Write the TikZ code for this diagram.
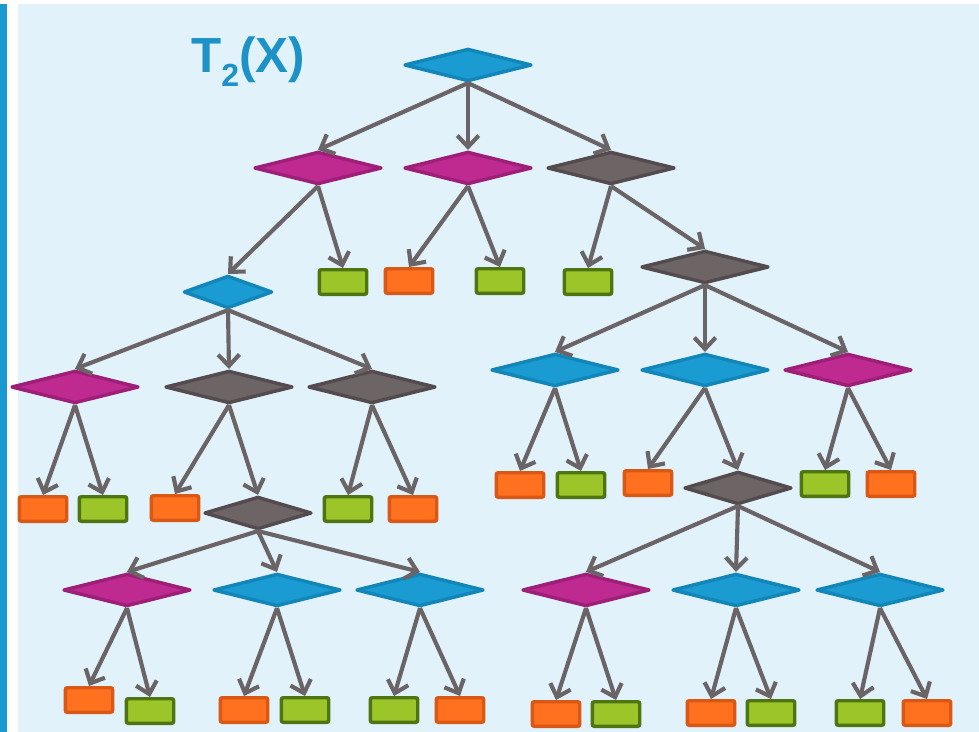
\documentclass[tikz,border=0pt]{standalone}
\usepackage{fontspec}
\setmainfont{Liberation Sans}
\usetikzlibrary{shapes.geometric,arrows.meta}
\definecolor{panel}{HTML}{E1F2FA}
\definecolor{sidebar}{HTML}{1A9AD0}
\definecolor{cyanfill}{HTML}{1A9BD2}
\definecolor{cyanline}{HTML}{1386B9}
\definecolor{plumfill}{HTML}{BE2A90}
\definecolor{plumline}{HTML}{9E1F78}
\definecolor{slatefill}{HTML}{6D6466}
\definecolor{slateline}{HTML}{534B4D}
\definecolor{orangefill}{HTML}{FF701F}
\definecolor{orangeline}{HTML}{D95816}
\definecolor{limefill}{HTML}{9BC528}
\definecolor{limeline}{HTML}{4F7513}
\definecolor{edgegrey}{HTML}{6B6466}
\definecolor{titleblue}{HTML}{1C92C9}

\begin{document}
\begin{tikzpicture}[x=0.75pt, y=-0.75pt,
    dia/.style={diamond, inner sep=0pt, line width=2.6pt, line join=round, minimum width=95.5pt, minimum height=24.5pt},
    small/.style={minimum width=66.5pt},
    mid/.style={minimum width=80.5pt},
    bdia/.style={dia, fill=cyanfill, draw=cyanline},
    mdia/.style={dia, fill=plumfill, draw=plumline},
    gdia/.style={dia, fill=slatefill, draw=slateline},
    box/.style={rectangle, rounded corners=1.5pt, inner sep=0pt, line width=2.6pt, minimum width=35.6pt, minimum height=18.4pt},
    obox/.style={box, fill=orangefill, draw=orangeline},
    lbox/.style={box, fill=limefill, draw=limeline},
    arr/.style={draw=edgegrey, line width=3.1pt, -{Straight Barb[length=8.5pt,width=16pt]}}]
    \useasboundingbox (0,0) rectangle (979,732);
    \fill[white] (0,0) rectangle (979,732);
    \fill[sidebar] (0,4) rectangle (7,732);
    \fill[panel] (18,4) rectangle (979,732);

    \node[anchor=base west, inner sep=0pt, text=titleblue, font=\fontsize{37}{40}\selectfont\bfseries] (T) at (191,72)
        {T\raisebox{-11pt}{\fontsize{24}{24}\selectfont 2}(X)};

    % top of the tree
    \node[bdia] (R) at (468,65) {};
    \node[mdia] (A) at (318,168) {};
    \node[mdia] (B) at (468,168) {};
    \node[gdia] (C) at (611,168) {};
    \node[bdia, small] (A1) at (228,292) {};
    \node[lbox] (A2) at (343,282) {};
    \node[obox] (B1) at (409,281) {};
    \node[lbox] (B2) at (500,281) {};
    \node[lbox] (C1) at (588,282) {};
    \node[gdia] (C2) at (705,267) {};

    % left branch
    \node[mdia] (D1) at (75,387) {};
    \node[gdia] (D2) at (229,387) {};
    \node[gdia] (D3) at (372,387) {};
    \node[obox] (D1a) at (43,509) {};
    \node[lbox] (D1b) at (103,509) {};
    \node[obox] (D2a) at (175,508) {};
    \node[gdia, mid] (D2b) at (258,513) {};
    \node[lbox] (D3a) at (348,509) {};
    \node[obox] (D3b) at (413,509) {};
    \node[mdia] (E1) at (127,590) {};
    \node[bdia] (E2) at (277,590) {};
    \node[bdia] (E3) at (420,590) {};
    \node[obox] (E1a) at (89,700) {};
    \node[lbox] (E1b) at (150,711) {};
    \node[obox] (E2a) at (244,710) {};
    \node[lbox] (E2b) at (305,710) {};
    \node[lbox] (E3a) at (394,710) {};
    \node[obox] (E3b) at (460,710) {};

    % right branch
    \node[bdia] (F1) at (555,370) {};
    \node[bdia] (F2) at (705,370) {};
    \node[mdia] (F3) at (848,370) {};
    \node[obox] (F1a) at (520,485) {};
    \node[lbox] (F1b) at (581,485) {};
    \node[obox] (F2a) at (648,483) {};
    \node[gdia, mid] (F2b) at (738,488) {};
    \node[lbox] (F3a) at (825,484) {};
    \node[obox] (F3b) at (891,484) {};
    \node[mdia] (G1) at (586,590) {};
    \node[bdia] (G2) at (736,590) {};
    \node[bdia] (G3) at (880,590) {};
    \node[obox] (G1a) at (556,714) {};
    \node[lbox] (G1b) at (616,714) {};
    \node[obox] (G2a) at (711,713) {};
    \node[lbox] (G2b) at (771,713) {};
    \node[lbox] (G3a) at (860,713) {};
    \node[obox] (G3b) at (927,713) {};

    \path[arr] (R.south) -- (A.north);
    \path[arr] (R.south) -- (B.north);
    \path[arr] (R.south) -- (C.north);
    \path[arr] (A.south) -- (A1.north);
    \path[arr] (A.south) -- (A2.north);
    \path[arr] (B.south) -- (B1.north);
    \path[arr] (B.south) -- (B2.north);
    \path[arr] (C.south) -- (C1.north);
    \path[arr] (C.south) -- (C2.north);

    \path[arr] (A1.south) -- (D1.north);
    \path[arr] (A1.south) -- (D2.north);
    \path[arr] (A1.south) -- (D3.north);
    \path[arr] (D1.south) -- (D1a.north);
    \path[arr] (D1.south) -- (D1b.north);
    \path[arr] (D2.south) -- (D2a.north);
    \path[arr] (D2.south) -- (D2b.north);
    \path[arr] (D3.south) -- (D3a.north);
    \path[arr] (D3.south) -- (D3b.north);
    \path[arr] (D2b.south) -- (E1.north);
    \path[arr] (D2b.south) -- (E2.north);
    \path[arr] (D2b.south) -- (E3.north);
    \path[arr] (E1.south) -- (E1a.north);
    \path[arr] (E1.south) -- (E1b.north);
    \path[arr] (E2.south) -- (E2a.north);
    \path[arr] (E2.south) -- (E2b.north);
    \path[arr] (E3.south) -- (E3a.north);
    \path[arr] (E3.south) -- (E3b.north);

    \path[arr] (C2.south) -- (F1.north);
    \path[arr] (C2.south) -- (F2.north);
    \path[arr] (C2.south) -- (F3.north);
    \path[arr] (F1.south) -- (F1a.north);
    \path[arr] (F1.south) -- (F1b.north);
    \path[arr] (F2.south) -- (F2a.north);
    \path[arr] (F2.south) -- (F2b.north);
    \path[arr] (F3.south) -- (F3a.north);
    \path[arr] (F3.south) -- (F3b.north);
    \path[arr] (F2b.south) -- (G1.north);
    \path[arr] (F2b.south) -- (G2.north);
    \path[arr] (F2b.south) -- (G3.north);
    \path[arr] (G1.south) -- (G1a.north);
    \path[arr] (G1.south) -- (G1b.north);
    \path[arr] (G2.south) -- (G2a.north);
    \path[arr] (G2.south) -- (G2b.north);
    \path[arr] (G3.south) -- (G3a.north);
    \path[arr] (G3.south) -- (G3b.north);
\end{tikzpicture}
\end{document}
